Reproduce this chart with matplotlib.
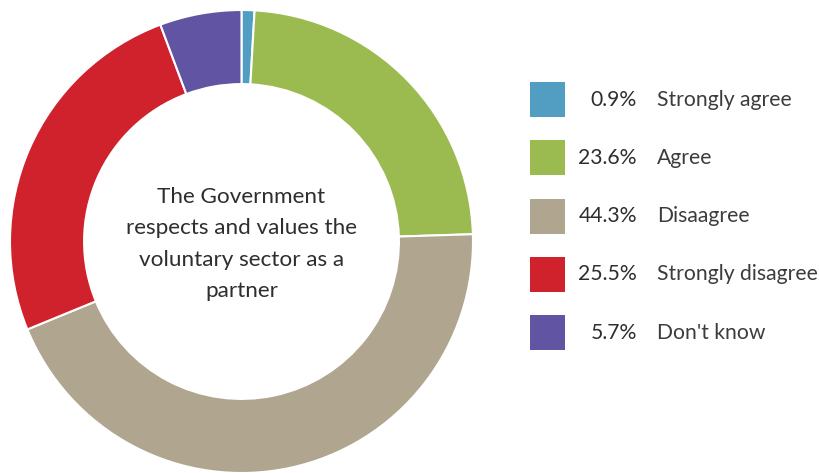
import matplotlib
matplotlib.use("Agg")
import matplotlib.pyplot as plt
from matplotlib.patches import Rectangle

categories = ["Strongly agree", "Agree", "Disaagree", "Strongly disagree", "Don't know"]
shares = [0.9, 23.6, 44.3, 25.5, 5.7]
colors = ["#519ec2", "#9bbb50", "#b0a68f", "#d0222c", "#6154a3"]
center_text = "The Government\nrespects and values the\nvoluntary sector as a\npartner"

W, H = 820, 473
fig = plt.figure(figsize=(W / 100, H / 100), dpi=100)
ax = fig.add_axes([0, 0, 1, 1])

font = ["Lato", "DejaVu Sans"]

cx, cy, r = 241.5, H - 241.5, 231.5
ax.pie(shares, colors=colors, startangle=90, counterclock=False,
       center=(cx, cy), radius=r, frame=True,
       wedgeprops=dict(width=r * 0.32, edgecolor="white", linewidth=1.5))
ax.set_xlim(0, W)
ax.set_ylim(0, H)
ax.set_aspect("equal")
ax.axis("off")

ax.text(cx, H - 244, center_text, ha="center", va="center", fontsize=16.2,
        color="#2e2e2e", family=font, linespacing=1.7)

# legend rows: swatch, percentage, label
x0, y_top, step, size = 530, 82, 58.3, 35
for i, (cat, val, col) in enumerate(zip(categories, shares, colors)):
    yt = y_top + i * step
    ax.add_patch(Rectangle((x0, H - yt - size), size, size, facecolor=col,
                           edgecolor="none"))
    ym = H - yt - size / 2
    ax.text(637, ym, f"{val:.1f}%", ha="right", va="center", fontsize=15.2,
            color="#2e2e2e", family=font)
    ax.text(657, ym, cat, ha="left", va="center", fontsize=15.2,
            color="#3c3c3c", family=font)

fig.savefig("out.png", dpi=100, facecolor="white")
